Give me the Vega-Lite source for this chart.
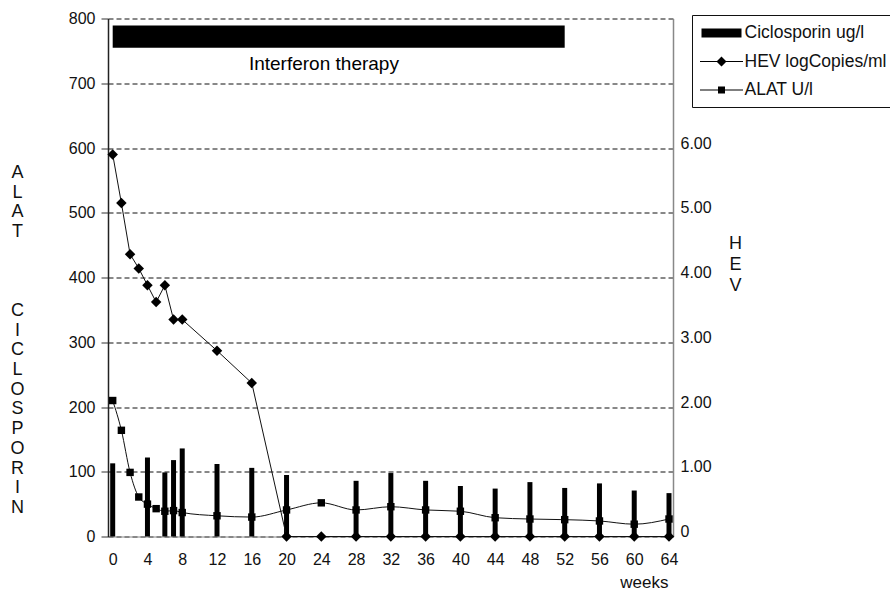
{
  "$schema": "https://vega.github.io/schema/vega-lite/v6.json",
  "width": 565,
  "height": 518,
  "autosize": {"type": "none"},
  "padding": {"left": 108, "top": 18.5, "right": 217, "bottom": 55.5},
  "background": "white",
  "config": {
    "view": {"stroke": null},
    "font": "Liberation Sans",
    "axis": {"labelFont": "Liberation Sans", "titleFont": "Liberation Sans", "labelColor": "#111", "titleColor": "#111", "titleFontWeight": "normal", "labelFontSize": 16, "titleFontSize": 18}
  },
  "datasets": {
    "cic": [
      {"week": 0, "ciclosporin": 113}, {"week": 4, "ciclosporin": 122}, {"week": 6, "ciclosporin": 99},
      {"week": 7, "ciclosporin": 118}, {"week": 8, "ciclosporin": 136}, {"week": 12, "ciclosporin": 112},
      {"week": 16, "ciclosporin": 106}, {"week": 20, "ciclosporin": 95}, {"week": 28, "ciclosporin": 86},
      {"week": 32, "ciclosporin": 98}, {"week": 36, "ciclosporin": 86}, {"week": 40, "ciclosporin": 78},
      {"week": 44, "ciclosporin": 74}, {"week": 48, "ciclosporin": 84}, {"week": 52, "ciclosporin": 75},
      {"week": 56, "ciclosporin": 82}, {"week": 60, "ciclosporin": 71}, {"week": 64, "ciclosporin": 67}
    ],
    "alat": [
      {"week": 0, "alat": 210}, {"week": 1, "alat": 164}, {"week": 2, "alat": 99}, {"week": 3, "alat": 61},
      {"week": 4, "alat": 50}, {"week": 5, "alat": 43}, {"week": 6, "alat": 39}, {"week": 7, "alat": 40},
      {"week": 8, "alat": 37}, {"week": 12, "alat": 32}, {"week": 16, "alat": 30}, {"week": 20, "alat": 41},
      {"week": 24, "alat": 52}, {"week": 28, "alat": 41}, {"week": 32, "alat": 46}, {"week": 36, "alat": 41},
      {"week": 40, "alat": 39}, {"week": 44, "alat": 29}, {"week": 48, "alat": 27}, {"week": 52, "alat": 26},
      {"week": 56, "alat": 24}, {"week": 60, "alat": 19}, {"week": 64, "alat": 27}
    ],
    "hev": [
      {"week": 0, "hev": 5.9}, {"week": 1, "hev": 5.15}, {"week": 2, "hev": 4.36}, {"week": 3, "hev": 4.14},
      {"week": 4, "hev": 3.88}, {"week": 5, "hev": 3.62}, {"week": 6, "hev": 3.88}, {"week": 7, "hev": 3.35},
      {"week": 8, "hev": 3.35}, {"week": 12, "hev": 2.87}, {"week": 16, "hev": 2.37}, {"week": 20, "hev": 0},
      {"week": 24, "hev": 0}, {"week": 28, "hev": 0}, {"week": 32, "hev": 0}, {"week": 36, "hev": 0},
      {"week": 40, "hev": 0}, {"week": 44, "hev": 0}, {"week": 48, "hev": 0}, {"week": 52, "hev": 0},
      {"week": 56, "hev": 0}, {"week": 60, "hev": 0}, {"week": 64, "hev": 0}
    ]
  },
  "layer": [
    {
      "layer": [
        {
          "data": {"values": [{"therapy": "Interferon therapy", "start": 0, "end": 52}]},
          "mark": {"type": "rect", "color": "black"},
          "encoding": {
            "x": {"field": "start", "type": "quantitative",
              "scale": {"domain": [-0.54, 64.46], "nice": false, "zero": false, "padding": 0},
              "axis": {"values": [0, 4, 8, 12, 16, 20, 24, 28, 32, 36, 40, 44, 48, 52, 56, 60, 64], "tickCount": 30, "labelOverlap": false, "labelFlush": false, "grid": false, "ticks": false, "tickSize": 0, "labelPadding": 15, "labelAngle": 0, "domainColor": "#888", "domainWidth": 1, "title": "weeks", "titleX": 560, "titleY": 51, "titleAlign": "right", "titleBaseline": "alphabetic", "titleFontSize": 17}},
            "x2": {"field": "end"},
            "y": {"datum": 789, "type": "quantitative",
              "scale": {"domain": [0, 800], "nice": false},
              "axis": {"values": [0, 100, 200, 300, 400, 500, 600, 700, 800], "tickCount": 20, "grid": true, "gridDash": [5, 3], "gridColor": "#111", "gridWidth": 1, "tickSize": 7, "tickColor": "#333", "labelPadding": 6, "domainColor": "#222", "domainWidth": 1.5,
                "title": ["A", "L", "A", "T", "\u200b", "\u200b", "\u200b", "C", "I", "C", "L", "O", "S", "P", "O", "R", "I", "N"],
                "titleAngle": 0, "titleAlign": "center", "titleBaseline": "top", "titleX": -91, "titleY": 145, "titleLineHeight": 19.7, "titleFontSize": 18}},
            "y2": {"datum": 755}
          }
        },
        {
          "data": {"values": [{"therapy": "Interferon therapy"}]},
          "mark": {"type": "text", "color": "black", "fontSize": 19, "align": "center", "baseline": "alphabetic", "font": "Liberation Sans"},
          "encoding": {
            "x": {"datum": 24.3, "type": "quantitative"},
            "y": {"datum": 721, "type": "quantitative"},
            "text": {"field": "therapy"}
          }
        },
        {
          "data": {"name": "cic"},
          "mark": {"type": "bar", "color": "black", "size": 5, "orient": "vertical"},
          "encoding": {
            "x": {"field": "week", "type": "quantitative"},
            "y": {"field": "ciclosporin", "type": "quantitative"}
          }
        },
        {
          "data": {"name": "alat"},
          "mark": {"type": "line", "color": "#111", "strokeWidth": 1, "interpolate": "monotone"},
          "encoding": {
            "x": {"field": "week", "type": "quantitative"},
            "y": {"field": "alat", "type": "quantitative"}
          }
        },
        {
          "data": {"name": "alat"},
          "mark": {"type": "point", "shape": "square", "filled": true, "color": "black", "size": 55, "opacity": 1},
          "encoding": {
            "x": {"field": "week", "type": "quantitative"},
            "y": {"field": "alat", "type": "quantitative"}
          }
        }
      ]
    },
    {
      "layer": [
        {
          "data": {"name": "hev"},
          "mark": {"type": "line", "color": "#111", "strokeWidth": 1, "interpolate": "linear"},
          "encoding": {
            "x": {"field": "week", "type": "quantitative"},
            "y": {"field": "hev", "type": "quantitative",
              "scale": {"domain": [0, 8], "nice": false},
              "axis": {"orient": "right", "values": [0, 1, 2, 3, 4, 5, 6], "grid": false, "ticks": false, "labelPadding": 7, "labelOffset": -5,
                "labelExpr": "datum.value == 0 ? '0' : format(datum.value, '.2f')",
                "domainColor": "#888", "domainWidth": 1.5,
                "title": ["H", "E", "V"], "titleAngle": 0, "titleAlign": "center", "titleBaseline": "top", "titleX": 62, "titleY": 216, "titleLineHeight": 21, "titleFontSize": 18}}
          }
        },
        {
          "data": {"name": "hev"},
          "mark": {"type": "point", "shape": "diamond", "filled": true, "color": "black", "size": 110, "opacity": 1},
          "encoding": {
            "x": {"field": "week", "type": "quantitative"},
            "y": {"field": "hev", "type": "quantitative"}
          }
        }
      ]
    },
    {
      "data": {"values": [{"series": "Ciclosporin ug/l"}, {"series": "HEV logCopies/ml"}, {"series": "ALAT U/l"}]},
      "transform": [{"filter": "false"}],
      "mark": {"type": "point", "filled": true, "color": "black", "opacity": 1},
      "encoding": {
        "shape": {"field": "series", "type": "nominal",
          "scale": {"domain": ["Ciclosporin ug/l", "HEV logCopies/ml", "ALAT U/l"],
            "range": ["M-2.0,-0.45H2.0V0.45H-2.0Z", "M-2.15,-0.06H2.15V0.06H-2.15Z M0,-0.5L0.5,0L0,0.5L-0.5,0Z", "M-2.15,-0.06H2.15V0.06H-2.15Z M-0.35,-0.35H0.35V0.35H-0.35Z"]},
          "legend": {"title": null, "orient": "none", "legendX": 584, "legendY": -3.5, "strokeColor": "#111", "padding": 8, "symbolSize": 400, "symbolOffset": 11.5, "symbolFillColor": "black", "symbolStrokeWidth": 0, "symbolOpacity": 1, "labelFontSize": 17.5, "labelFont": "Liberation Sans", "labelColor": "#111", "labelOffset": 13, "rowPadding": 9.5, "labelLimit": 300}}
      }
    }
  ],
  "resolve": {"scale": {"y": "independent"}}
}
